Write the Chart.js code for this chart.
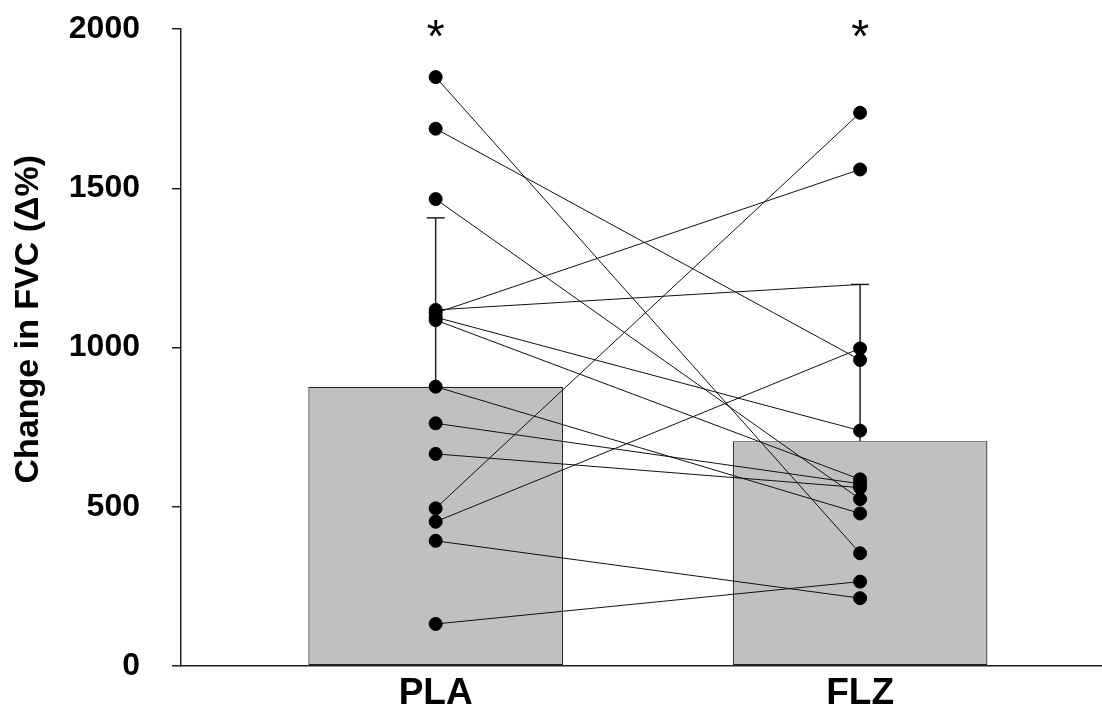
<!DOCTYPE html>
<html>
<head>
<meta charset="utf-8">
<script src="https://cdn.jsdelivr.net/npm/chart.js@4"></script>
<style>
  html, body { margin: 0; padding: 0; background: #fff; }
  #wrap { width: 1102px; height: 708px; }
</style>
</head>
<body>
<div id="wrap"><canvas id="graphic"></canvas></div>
<script>
// ==========================================================================
// DATA
// ==========================================================================
const categories = ['PLA', 'FLZ'];
const meanValues = [877, 706];
const sdValues = [530, 492];
const yTicks = [0, 500, 1000, 1500, 2000];

// paired subjects, PLA -> FLZ
const plaValues = [1849, 1687, 1466, 1118, 1108, 1095, 1086, 877, 762, 666, 495, 453, 393, 132];
const flzValues = [354, 961, 524, 1198, 1559, 739, 586, 479, 572, 560, 1737, 997, 213, 265];
const unmarked = [3]; // subjects whose FLZ marker is not drawn

const starLabels = ['*', '*'];
const starLevel = 2000;

// ==========================================================================
// GRAPHICS
// ==========================================================================
const FONT = 'Arial, "Liberation Sans", sans-serif';

const starPlugin = {
  id: 'stars',
  afterDatasetsDraw(chart) {
    const c = chart.ctx;
    const xs = chart.scales.x, ys = chart.scales.y;
    c.save();
    c.fillStyle = '#000';
    c.font = '46px ' + FONT;
    c.textAlign = 'center';
    c.textBaseline = 'alphabetic';
    starLabels.forEach((s, i) => {
      c.fillText(s, xs.getPixelForValue(i), ys.getPixelForValue(starLevel) + 23);
    });
    c.restore();
  }
};

let datasets = [];

datasets.push({
  type: 'bar',
  data: meanValues.map((v, i) => ({x: i, y: v})),
  backgroundColor: '#c0c0c0',
  borderColor: '#222',
  borderWidth: 1.2,
  borderSkipped: false,
  barPercentage: 0.6,
  categoryPercentage: 1,
  order: 3
});

meanValues.forEach((m, i) => {
  datasets.push({
    type: 'line',
    data: [{x: i, y: m}, {x: i, y: m + sdValues[i]}],
    borderColor: '#222',
    borderWidth: 1.5,
    pointRadius: [0, 9],
    pointStyle: 'line',
    pointBorderColor: '#222',
    pointBorderWidth: 1.5,
    order: 2
  });
});

plaValues.forEach((p, i) => {
  datasets.push({
    type: 'line',
    data: [{x: 0, y: p}, {x: 1, y: flzValues[i]}],
    borderColor: '#111',
    borderWidth: 1,
    pointRadius: unmarked.includes(i) ? [6.5, 0] : 6.5,
    pointBackgroundColor: '#000',
    pointBorderColor: '#000',
    pointBorderWidth: 1,
    order: 1
  });
});

let ctx = document.getElementById('graphic').getContext('2d');
let myChart = new Chart(ctx, {
  type: 'bar',
  data: { datasets: datasets },
  plugins: [starPlugin],
  options: {
    responsive: true,
    maintainAspectRatio: false,
    animation: false,
    layout: { autoPadding: false, padding: { top: 29, right: 0, left: 0, bottom: 0 } },
    plugins: {
      legend: { display: false },
      tooltip: { enabled: false }
    },
    scales: {
      x: {
        type: 'linear',
        min: -0.6,
        max: 1.57,
        offset: false,
        afterBuildTicks: (axis) => { axis.ticks = categories.map((c, i) => ({value: i})); },
        afterFit: (scale) => { scale.height = 42; scale.paddingLeft = 0; scale.paddingRight = 0; },
        grid: { display: false, drawTicks: false },
        border: { display: true, color: '#222', width: 1.5 },
        ticks: {
          color: '#000',
          padding: 6,
          autoSkip: false,
          maxRotation: 0,
          font: { family: FONT, size: 37, weight: 'bold' },
          callback: (v) => categories[v]
        }
      },
      y: {
        min: 0,
        max: 2000,
        afterBuildTicks: (axis) => { axis.ticks = yTicks.map(v => ({value: v})); },
        afterFit: (scale) => { scale.width = 181; scale.paddingTop = 0; scale.paddingBottom = 0; },
        grid: { drawOnChartArea: false, drawTicks: true, tickLength: 9, color: '#222', lineWidth: 1.5 },
        border: { display: true, color: '#222', width: 1.5 },
        ticks: {
          color: '#000',
          padding: 32,
          font: { family: FONT, size: 32, weight: 'bold' },
          callback: (v) => String(v)
        },
        title: {
          display: true,
          text: '      Change in FVC (\u0394%)',
          color: '#000',
          padding: { top: 8, bottom: 0 },
          font: { family: FONT, size: 34, weight: 'bold' }
        }
      }
    }
  }
});
</script>
</body>
</html>
